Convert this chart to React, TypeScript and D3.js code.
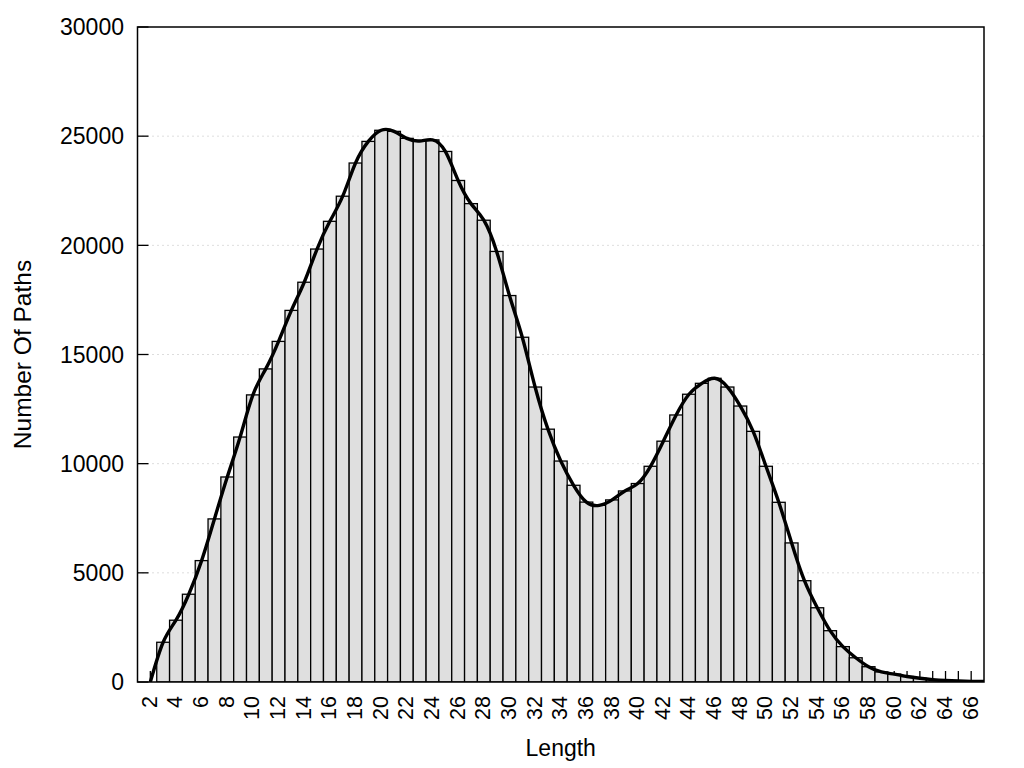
import React from 'react';
import * as d3 from 'd3';

const lengths = [2,3,4,5,6,7,8,9,10,11,12,13,14,15,16,17,18,19,20,21,22,23,24,25,26,27,28,29,30,31,32,33,34,35,36,37,38,39,40,41,42,43,44,45,46,47,48,49,50,51,52,53,54,55,56,57,58,59,60,61,62,63,64,65,66,67];
const counts = [0,1820,2830,4020,5560,7470,9390,11220,13150,14340,15600,17020,18310,19830,21100,22250,23770,24760,25270,25220,24900,24780,24830,24300,22970,21910,21150,19720,17700,15790,13510,11580,10120,9010,8240,8090,8340,8750,9090,9880,11030,12230,13180,13680,13910,13510,12640,11480,9880,8230,6370,4640,3400,2350,1620,1110,700,460,360,250,170,110,70,45,30,20];
const yTicks = [0,5000,10000,15000,20000,25000,30000];
const xTickMarks = d3.range(2, 67);
const xTickLabels = [2,4,6,8,10,12,14,16,18,20,22,24,26,28,30,32,34,36,38,40,42,44,46,48,50,52,54,56,58,60,62,64,66];
const xTitle = 'Length';
const yTitle = 'Number Of Paths';

const FONT = '"Liberation Sans", Arial, Helvetica, sans-serif';

export default function App() {
  const W = 1024, H = 768;
  const L = 137.5, R = 984, T = 27, B = 682;
  const x = d3.scaleLinear().domain([1, 67]).range([L, R]);
  const y = d3.scaleLinear().domain([0, 30000]).range([B, T]);
  const line = d3.line<number>()
    .x((_, i) => x(lengths[i]))
    .y((d) => y(d))
    .curve(d3.curveNatural);
  const bw = x(1.5) - x(0.5);

  return (
    <svg width={W} height={H} style={{ position: 'absolute', left: 0, top: 0, background: '#fff' }} fontFamily={FONT}>
      <defs>
        <clipPath id="plotclip">
          <rect x={L} y={T} width={R - L} height={B - T} />
        </clipPath>
      </defs>
      <rect x={0} y={0} width={W} height={H} fill="#fff" />
      {yTicks.filter((t) => t > 0 && t < 30000).map((t) => (
        <line key={'g' + t} x1={L} x2={R} y1={y(t)} y2={y(t)} stroke="#bbbbbb" strokeWidth={1} strokeDasharray="1,4" />
      ))}
      {yTicks.map((t) => (
        <g key={'yt' + t}>
          <line x1={L} x2={L + 11} y1={y(t)} y2={y(t)} stroke="#000" strokeWidth={1.3} />
          <text x={124} y={y(t)} dy="0.36em" textAnchor="end" fontSize={23} fill="#000">{t}</text>
        </g>
      ))}
      {xTickMarks.map((t) => (
        <line key={'xt' + t} x1={x(t)} x2={x(t)} y1={B} y2={B - 11} stroke="#000" strokeWidth={1.3} />
      ))}
      <g clipPath="url(#plotclip)">
        {lengths.map((len, i) => counts[i] > 0 ? (
          <rect key={'b' + len} x={x(len - 0.5)} y={y(counts[i])} width={bw} height={y(0) - y(counts[i])}
            fill="#dfdfdf" stroke="#000" strokeWidth={1.3} />
        ) : null)}
        <path d={line(counts) || ''} fill="none" stroke="#000" strokeWidth={3.4} strokeLinejoin="round" />
      </g>
      {xTickLabels.map((t) => (
        <text key={'xl' + t} transform={`translate(${x(t)},${696}) rotate(-90)`} dy="0.3em" textAnchor="end" fontSize={21.5} fill="#000">{t}</text>
      ))}
      <rect x={L} y={T} width={R - L} height={B - T} fill="none" stroke="#000" strokeWidth={1.5} />
      <text x={(L + R) / 2} y={756} textAnchor="middle" fontSize={23} fill="#000">{xTitle}</text>
      <text transform={`translate(${31},${(T + B) / 2}) rotate(-90)`} textAnchor="middle" fontSize={24.5} fill="#000">{yTitle}</text>
    </svg>
  );
}
